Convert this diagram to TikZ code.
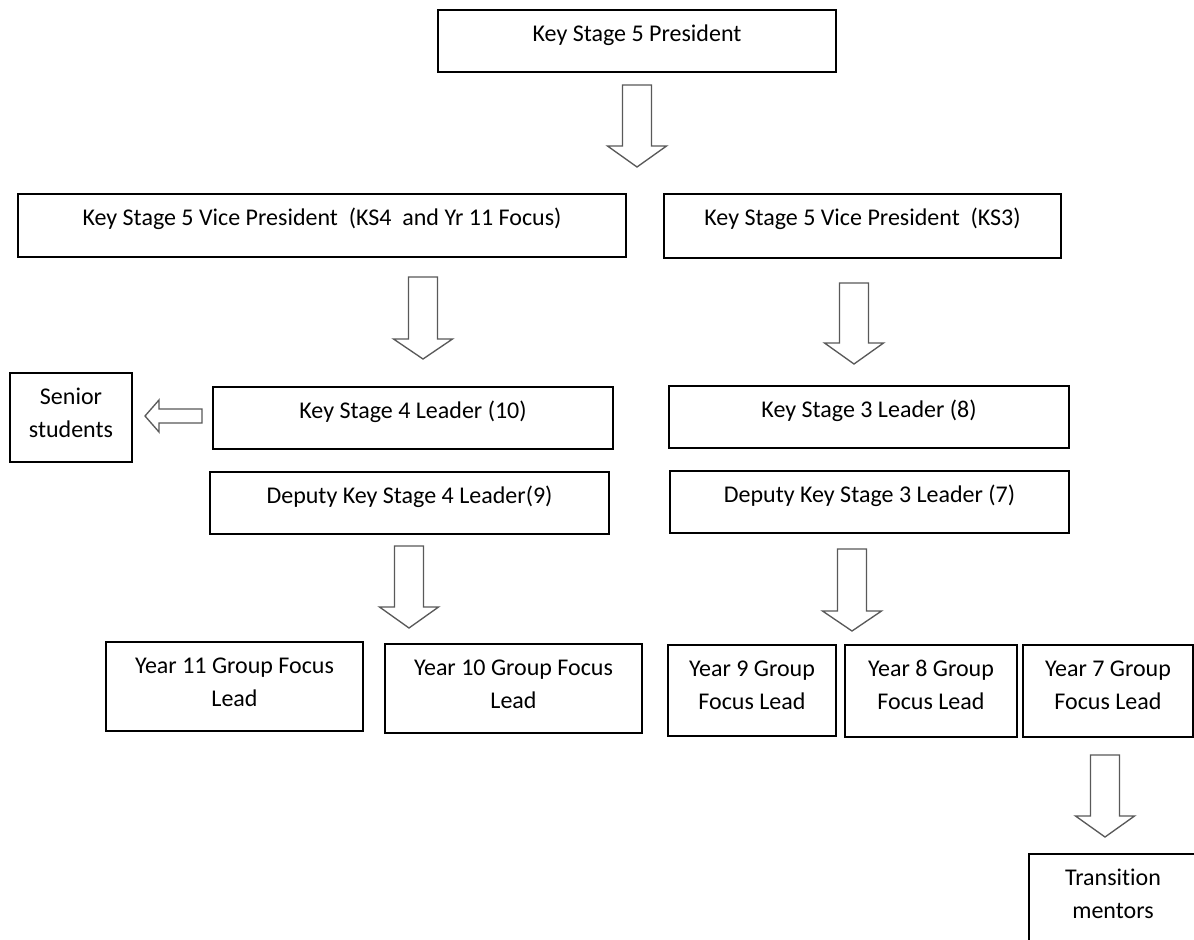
\documentclass[tikz,border=0pt]{standalone}
\usepackage{fontspec}
\setmainfont{Carlito}[Ligatures=NoCommon]
\newcommand\orgbox[6]{\node[box, minimum width={(#4-#2)*0.75pt}, minimum height={(#5-#3)*0.75pt}, #6] (#1) at (#2,#3) {};}
\newcommand\blkdown[4]{\draw[blk] ({#1-14.5},#2) -- ({#1+14.5},#2) -- ({#1+14.5},#3) -- ({#1+29.5},#3) -- (#1,#4) -- ({#1-29.5},#3) -- ({#1-14.5},#3) -- cycle;}
\begin{document}
\begin{tikzpicture}[x=0.75pt,y=-0.75pt,
  box/.style={draw=black, line width=0.9pt, rectangle, inner sep=0pt, outer sep=0pt, anchor=north west},
  txt/.style={font=\fontsize{18}{21}\selectfont, inner sep=0pt, text=black},
  la/.style={txt, anchor=base, yshift=-23.6pt},
  lb/.style={txt, anchor=base, yshift=-48.4pt},
  blk/.style={draw=black!65, line width=1pt, fill=white, line join=miter}]
\clip (0,0) rectangle (1194,939);
\fill[white] (0,0) rectangle (1194,939);

\orgbox{pres}{438}{10}{836}{72}{label={[la]north:Key Stage 5 President}}
\orgbox{vpa}{18}{194}{626}{257}{label={[la]north:Key Stage 5 Vice President\ \ (KS4\ \ and Yr 11 Focus)}}
\orgbox{vpb}{664}{194}{1061}{258}{label={[la]north:Key Stage 5 Vice President\ \ (KS3)}}
\orgbox{ksf}{213}{387}{613}{449}{label={[la]north:Key Stage 4 Leader (10)}}
\orgbox{sen}{10}{373}{132}{462}{label={[la]north:Senior}, label={[lb]north:students}}
\orgbox{dksf}{210}{472}{609}{534}{label={[la]north:Deputy Key Stage 4 Leader(9)}}
\orgbox{kst}{669}{386}{1069}{448}{label={[la]north:Key Stage 3 Leader (8)}}
\orgbox{dkst}{670}{471}{1069}{533}{label={[la]north:Deputy Key Stage 3 Leader (7)}}
\orgbox{y11}{106}{642}{363}{731}{label={[la]north:Year 11 Group Focus}, label={[lb]north:Lead}}
\orgbox{y10}{385}{644}{642}{733}{label={[la]north:Year 10 Group Focus}, label={[lb]north:Lead}}
\orgbox{y9}{668}{645}{836}{736}{label={[la]north:Year 9 Group}, label={[lb]north:Focus Lead}}
\orgbox{y8}{845}{645}{1017}{737}{label={[la]north:Year 8 Group}, label={[lb]north:Focus Lead}}
\orgbox{y7}{1023}{645}{1193}{737}{label={[la]north:Year 7 Group}, label={[lb]north:Focus Lead}}
\orgbox{tm}{1029}{854}{1197}{944}{label={[la]north:Transition}, label={[lb]north:mentors}}

\draw[line width=1.6pt] (dksf.north east) -- (dksf.south east);

\blkdown{637}{85}{146}{167}
\blkdown{423}{277}{339}{359}
\blkdown{854}{283}{343}{364}
\blkdown{409}{546}{607}{628}
\blkdown{852}{549}{611}{631}
\blkdown{1105}{755}{816}{837}
\draw[blk] (202,409) -- (202,423) -- (159,423) -- (159,432) -- (145,416) -- (159,400) -- (159,409) -- cycle;
\end{tikzpicture}
\end{document}
